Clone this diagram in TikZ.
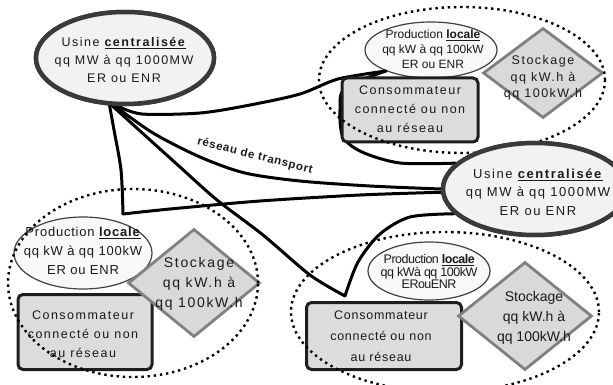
\documentclass[tikz,border=0pt]{standalone}
\usepackage{fontspec}
\setmainfont{Liberation Sans}
\newfontfamily\lsans[LetterSpace=12]{Liberation Sans}
\newfontfamily\msans[LetterSpace=6]{Liberation Sans}
\newfontfamily\csans[LetterSpace=-4]{Liberation Sans}
\usetikzlibrary{positioning, shapes.geometric}
\definecolor{usinetrait}{HTML}{3A3A3A}
\definecolor{usinefond}{HTML}{F2F2F2}
\definecolor{prodtrait}{HTML}{404040}
\definecolor{prodfond}{HTML}{F8F8F8}
\definecolor{stocktrait}{HTML}{808080}
\definecolor{stockfond}{HTML}{D9D9D9}
\definecolor{constrait}{HTML}{1E1E1E}
\definecolor{consfond}{HTML}{DCDCDC}
\definecolor{texte}{HTML}{1A1A1A}

\begin{document}
\begin{tikzpicture}[
    x=1pt, y=-1pt,
    usine/.style={ellipse, draw=usinetrait, line width=4.5pt, fill=usinefond, inner sep=0pt},
    prod/.style={ellipse, draw=prodtrait, line width=1.2pt, fill=prodfond, inner sep=0pt},
    stock/.style={diamond, draw=stocktrait, line width=2.8pt, fill=stockfond, inner sep=0pt},
    cons/.style={rectangle, rounded corners=5pt, draw=constrait, line width=3pt, fill=consfond, inner sep=0pt},
    zone/.style={ellipse, draw=black, line width=2.4pt, dash pattern=on 2.4pt off 3.8pt, inner sep=0pt},
    wire/.style={draw=black, line width=3pt, line join=round, line cap=round},
    txt/.style={align=center, inner sep=0pt, text=texte},
]
\useasboundingbox (0,0) rectangle (613,385);

% Reseau de transport (under everything)
\coordinate (jonctionBL) at (123,214);
\coordinate (jonctionBR) at (345,296);

\node[usine, minimum width=178, minimum height=92] (usineA) at (125,58) {};
\node[usine, minimum width=184, minimum height=92] (usineB) at (535,189) {};
\node[prod, minimum width=132, minimum height=56] (prodTR) at (431,50) {};
\node[prod, minimum width=138, minimum height=72] (prodBL) at (83,253) {};
\node[prod, minimum width=122, minimum height=58] (prodBR) at (429,271) {};

\draw[wire] plot[smooth, tension=0.5] coordinates {(usineA.262) (142,114) (200,113) (250,105) (300,94) (338,79) (prodTR.205)};
\draw[wire] plot[smooth, tension=0.5] coordinates {(usineA.258) (153,133) (200,157) (245,173) (300,181) (370,186) (usineB.west)};
\draw[wire] plot[smooth, tension=0.5] coordinates {(usineA.255) (180,167) (217,200) (263,235) (310,275) (jonctionBR)};
\draw[wire] plot[smooth, tension=0.5] coordinates {(usineA.252) (114,130) (121,170) (jonctionBL)};
\draw[wire] plot[smooth, tension=0.5] coordinates {(jonctionBL) (170,209) (260,201) (360,195) (usineB.182)};
\draw[wire] plot[smooth, tension=0.5] coordinates {(usineB.162) (400,163) (362,152) (343,137) (340,110) (345,88) (prodTR.205)};
\draw[wire] plot[smooth, tension=0.5] coordinates {(usineB.197) (410,217) (380,234) (358,262) (jonctionBR)};

\node[font=\bfseries\msans\fontsize{11.5}{12}\selectfont, rotate=-14, txt] (reseau) at (255,156) {réseau de transport};

% Sites locaux
\node[cons, minimum width=136, minimum height=64] (consTR) at (410,110) {};
\node[cons, minimum width=134, minimum height=75] (consBL) at (85,332) {};
\node[cons, minimum width=155, minimum height=67] (consBR) at (384,336) {};
\node[stock, minimum width=120, minimum height=90] (stockTR) at (543,73) {};
\node[stock, minimum width=132, minimum height=108] (stockBL) at (194,283) {};
\node[stock, minimum width=134, minimum height=108] (stockBR) at (525,316) {};

% Zones en pointille
\foreach \nom/\x/\y/\w/\h in {TR/462/80/286/146, BL/133/283/250/188, BR/445/312/308/160}
    \node[zone, minimum width=\w, minimum height=\h] (zone\nom) at (\x,\y) {};

% Usines par-dessus
\node[usine, minimum width=178, minimum height=92] at (usineA) {};
\node[usine, minimum width=184, minimum height=92] at (usineB) {};

% Textes
\node[txt, font=\lsans\fontsize{12.5}{18}\selectfont] (usineAtxt) at (124,60) {Usine \underline{\textbf{centralisée}}\\qq MW à qq 1000MW\\ER ou ENR};
\node[txt, font=\lsans\fontsize{13}{18.5}\selectfont] (usineBtxt) at (538,192) {Usine \underline{\textbf{centralisée}}\\qq MW à qq 1000MW\\ER ou ENR};
\node[txt, font=\fontsize{12}{15}\selectfont] (prodTRtxt) at (433,49) {Production \underline{\textbf{locale}}\\qq kW à qq 100kW\\ER ou ENR};
\node[txt, font=\msans\fontsize{13}{19}\selectfont] (prodBLtxt) at (83,251) {Production \underline{\textbf{locale}}\\qq kW à qq 100kW\\ER ou ENR};
\node[txt, font=\csans\fontsize{12.5}{12.5}\selectfont] (prodBRtxt) at (429,272) {Production \underline{\textbf{locale}}\\qq kWà qq 100kW\\ERouENR};
\node[txt, font=\lsans\fontsize{12.5}{16.5}\selectfont] (stockTRtxt) at (543,78) {Stockage\\qq kW.h à\\qq 100kW.h};
\node[txt, font=\lsans\fontsize{14}{20}\selectfont] (stockBLtxt) at (199,284) {Stockage\\qq kW.h à\\qq 100kW.h};
\node[txt, font=\fontsize{14}{20}\selectfont] (stockBRtxt) at (534,318) {Stockage\\qq kW.h à\\qq 100kW.h};
\node[txt, font=\lsans\fontsize{12.5}{19}\selectfont] (consTRtxt) at (410,109) {Consommateur\\connecté ou non\\au réseau};
\node[txt, font=\lsans\fontsize{12.5}{19}\selectfont] (consBLtxt) at (83,334) {Consommateur\\connecté ou non\\au réseau};
\node[txt, font=\msans\fontsize{12.5}{21}\selectfont] (consBRtxt) at (381,336) {Consommateur\\connecté ou non\\au réseau};

\end{tikzpicture}
\end{document}
